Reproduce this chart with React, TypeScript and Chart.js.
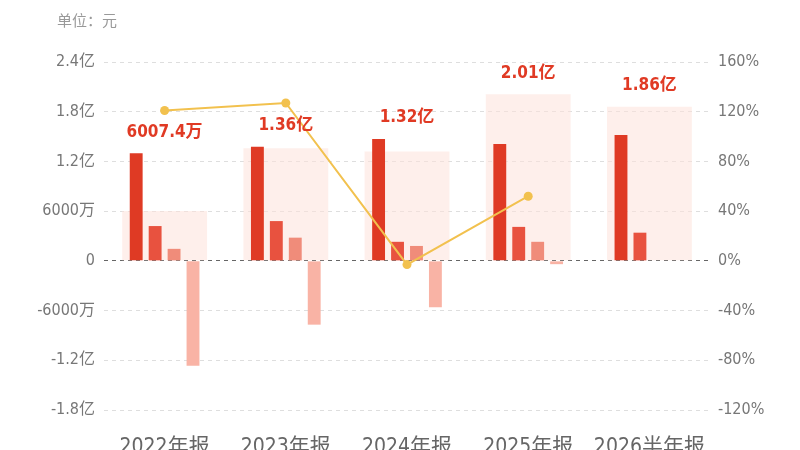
import { useEffect, useRef } from 'react';
import { Chart, registerables } from 'chart.js';

Chart.register(...registerables);

const categories = ['2022年报', '2023年报', '2024年报', '2025年报', '2026半年报'];
// totals (元), drawn as the pale background bar with a label on top
const totals = [60074000, 136000000, 132000000, 201000000, 186000000];
// components (元)
const partA = [130000000, 137700000, 147000000, 141000000, 152000000];
const partB = [42000000, 48000000, 23000000, 41000000, 34000000];
const partC = [14500000, 28000000, 18000000, 23000000, null];
const partD = [-126500000, -77000000, -56000000, -4000000, null];
// growth rate (%)
const growth = [121, 127, -3, 52, null];

const leftTicks = [-180000000, -120000000, -60000000, 0, 60000000, 120000000, 180000000, 240000000];
const rightTicks = [-120, -80, -40, 0, 40, 80, 120, 160];

const FONT = '"Liberation Sans Narrow", "DejaVu Sans Condensed", "Noto Sans CJK SC", sans-serif';

const fmtYuan = (v: number) => {
  if (v === 0) return '0';
  const a = Math.abs(v);
  if (a >= 1e8) return `${+(v / 1e8).toFixed(2)}亿`;
  return `${+(v / 1e4).toFixed(1)}万`;
};

const TOTAL_INDEX = 4;

const labelPlugin = {
  id: 'totalLabels',
  beforeDraw(chart: Chart) {
    const { ctx } = chart;
    ctx.save();
    ctx.font = `15px ${FONT}`;
    ctx.fillStyle = '#999';
    ctx.textAlign = 'left';
    ctx.textBaseline = 'middle';
    ctx.fillText('单位：元', 57, 22);
    ctx.restore();
  },
  afterDatasetsDraw(chart: Chart) {
    const { ctx } = chart;
    ctx.save();
    ctx.font = `bold 17px ${FONT}`;
    ctx.fillStyle = '#e03a24';
    ctx.textAlign = 'center';
    ctx.textBaseline = 'middle';
    totals.forEach((t, i) => {
      let top = Infinity;
      chart.data.datasets.forEach((ds, di) => {
        if ((ds as any).type === 'line') return;
        const el: any = chart.getDatasetMeta(di).data[i];
        if (!el || ds.data[i] == null) return;
        top = Math.min(top, el.y, el.base);
      });
      const x = (chart.getDatasetMeta(TOTAL_INDEX).data[i] as any).x;
      ctx.fillText(fmtYuan(t), x, top - 21);
    });
    ctx.restore();
  },
};

const App = () => {
  const canvasRef = useRef<HTMLCanvasElement | null>(null);
  const chartRef = useRef<Chart | null>(null);

  useEffect(() => {
    document.body.style.margin = '0';
    if (!canvasRef.current) return;
    chartRef.current?.destroy();

    const narrow = { yAxisID: 'y', barPercentage: 0.68, categoryPercentage: 0.625, order: 5 };

    chartRef.current = new Chart(canvasRef.current, {
      type: 'bar',
      data: {
        labels: categories,
        datasets: [
          { ...narrow, label: 'A', data: partA, backgroundColor: '#df3a24' },
          { ...narrow, label: 'B', data: partB, backgroundColor: '#e8523f' },
          { ...narrow, label: 'C', data: partC, backgroundColor: '#f08c7a' },
          { ...narrow, label: 'D', data: partD, backgroundColor: '#f9b3a5' },
          {
            label: 'total',
            data: totals,
            yAxisID: 'y',
            grouped: false, // sits behind the group, centred on the category
            backgroundColor: 'rgba(253, 226, 218, 0.55)',
            barPercentage: 0.7,
            categoryPercentage: 1,
            order: 10,
          } as any,
          {
            type: 'line',
            label: 'growth',
            data: growth,
            yAxisID: 'y1',
            borderColor: '#f2c14e',
            backgroundColor: '#f2c14e',
            borderWidth: 2,
            pointRadius: 4.5,
            pointBorderWidth: 0,
            order: 0,
          } as any,
        ],
      },
      options: {
        animation: false,
        responsive: true,
        maintainAspectRatio: false,
        layout: { padding: { top: 62, left: 0, right: 0, bottom: 0 } },
        plugins: { legend: { display: false }, tooltip: { enabled: false } },
        scales: {
          x: {
            grid: { display: false },
            border: { display: false },
            ticks: { color: '#666', font: { family: FONT, size: 21 }, padding: 17 },
            afterFit: (s: any) => {
              s.height = 40;
            },
          },
          y: {
            min: -180000000,
            max: 240000000,
            afterBuildTicks: (s: any) => {
              s.ticks = leftTicks.map((value) => ({ value }));
            },
            grid: {
              color: (c: any) => (c.tick && c.tick.value === 0 ? '#666' : '#dedede'),
              drawTicks: false,
            },
            border: { display: false, dash: [4, 4] },
            ticks: {
              color: '#777',
              font: { family: FONT, size: 16 },
              padding: 9,
              callback: (v: any) => fmtYuan(Number(v)),
            },
            afterFit: (s: any) => {
              s.width = 104;
            },
          },
          y1: {
            position: 'right',
            min: -120,
            max: 160,
            afterBuildTicks: (s: any) => {
              s.ticks = rightTicks.map((value) => ({ value }));
            },
            grid: { drawOnChartArea: false, drawTicks: false },
            border: { display: false },
            ticks: {
              color: '#777',
              font: { family: FONT, size: 16 },
              padding: 8,
              callback: (v: any) => `${v}%`,
            },
            afterFit: (s: any) => {
              s.width = 90;
            },
          },
        },
      },
      plugins: [labelPlugin],
    });

    return () => chartRef.current?.destroy();
  }, []);

  return (
    <div style={{ position: 'relative', width: 800, height: 450 }}>
      <canvas ref={canvasRef} />
    </div>
  );
};

export default App;
